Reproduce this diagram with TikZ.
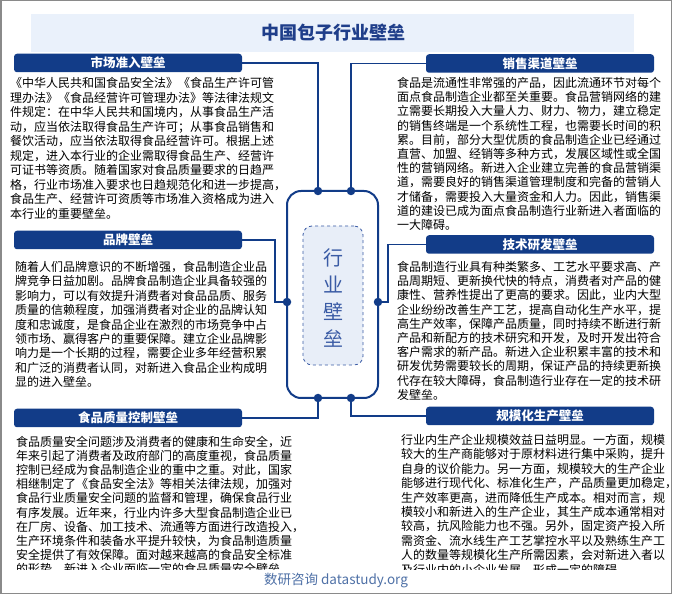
\documentclass[tikz,border=0pt]{standalone}
\usepackage{fontspec}
\setmainfont{Noto Sans CJK SC}
\definecolor{hdrblue}{HTML}{123C88}
\definecolor{bandblue}{HTML}{EAF1FB}
\definecolor{titleblue}{HTML}{1F3E8A}
\definecolor{coreblue}{HTML}{E8EEF8}
\definecolor{coretext}{HTML}{3A5BA5}
\definecolor{footblue}{HTML}{4E70A6}
\definecolor{framegray}{HTML}{8A8A8A}
\newcommand\bodylines[5]{%
  \foreach \lineText [count=\i] in {#5} {%
    \node[bodytext] (#1-\i) at (#2,{#3+(\i-1)*#4+4.5}) {\lineText};
  }%
}
\tikzset{
  bodytext/.style={anchor=base west, inner sep=0pt, font=\fontsize{12}{14}\selectfont},
  hdr/.style={fill=hdrblue, rounded corners=3pt, text=white, inner sep=0pt,
    minimum width=228pt, minimum height=18.5pt, font=\bfseries\fontsize{12.5}{14}\selectfont},
  dot/.style={circle, fill=hdrblue, inner sep=0pt, minimum size=8.5pt},
  link/.style={draw=hdrblue, line width=1.1pt},
}
\begin{document}
\begin{tikzpicture}[x=1pt,y=-1pt]
\useasboundingbox (0,0) rectangle (673,596);
\draw[framegray, line width=1.5pt] (0.75,0.75) rectangle (671.5,593.5);
% title
\fill[bandblue] (31,14) rectangle (634,52);
\node[text=titleblue, font=\bfseries\fontsize{18}{20}\selectfont] (title) at (333,33) {中国包子行业壁垒};
% headers
\node[hdr] (h1) at (128,63) {市场准入壁垒};
\node[hdr] (h2) at (128,240) {品牌壁垒};
\node[hdr] (h3) at (128,418) {食品质量控制壁垒};
\node[hdr] (h4) at (540,63.5) {销售渠道壁垒};
\node[hdr] (h5) at (540,244.5) {技术研发壁垒};
\node[hdr] (h6) at (540,416) {规模化生产壁垒};
% center
\node[draw=hdrblue, line width=2pt, rounded corners=14pt, minimum width=91pt, minimum height=207pt, inner sep=0pt] (frame) at (332.5,294.5) {};
\node[draw=coretext, dashed, line width=0.8pt, fill=coreblue, rounded corners=9pt, minimum width=60pt, minimum height=139pt, inner sep=0pt] (core) at (333,295.5) {};
\node[text=coretext, align=center, inner sep=0pt, font=\fontsize{20}{27}\selectfont] (coretext) at (333,298.5) {行\\业\\壁\\垒};
% dots
\node[dot] (dTL) at (318,191) {};
\node[dot] (dTR) at (351,191) {};
\node[dot] (dBL) at (318,398) {};
\node[dot] (dBR) at (351,398) {};
\node[dot] (dL) at (287,302) {};
\node[dot] (dR) at (378,302) {};
\coordinate (b2) at (275,240);
\coordinate (b5) at (388,244.5);
% connectors
\draw[link] (h1.east) -| (dTL);
\draw[link] (h4.west) -| (dTR);
\draw[link] (h2.east) -- (b2) |- (dL);
\draw[link] (h5.west) -- (b5) |- (dR);
\draw[link] (h3.east) -| (dBL);
\draw[link] (h6.west) -| (dBR);
% text blocks
\bodylines{ta}{10}{83}{14.55}{%
《中华人民共和国食品安全法》《食品生产许可管,
理办法》《食品经营许可管理办法》等法律法规文,
件规定：在中华人民共和国境内，从事食品生产活,
动，应当依法取得食品生产许可；从事食品销售和,
餐饮活动，应当依法取得食品经营许可。根据上述,
规定，进入本行业的企业需取得食品生产、经营许,
可证书等资质。随着国家对食品质量要求的日趋严,
格，行业市场准入要求也日趋规范化和进一步提高，,
食品生产、经营许可资质等市场准入资格成为进入,
本行业的重要壁垒。}
\bodylines{tb}{15}{267}{14.4}{%
随着人们品牌意识的不断增强，食品制造企业品,
牌竞争日益加剧。品牌食品制造企业具备较强的,
影响力，可以有效提升消费者对食品品质、服务,
质量的信赖程度，加强消费者对企业的品牌认知,
度和忠诚度，是食品企业在激烈的市场竞争中占,
领市场、赢得客户的重要保障。建立企业品牌影,
响力是一个长期的过程，需要企业多年经营积累,
和广泛的消费者认同，对新进入食品企业构成明,
显的进入壁垒。}
\bodylines{td}{397}{83}{14.2}{%
食品是流通性非常强的产品，因此流通环节对每个,
面点食品制造企业都至关重要。食品营销网络的建,
立需要长期投入大量人力、财力、物力，建立稳定,
的销售终端是一个系统性工程，也需要长时间的积,
累。目前，部分大型优质的食品制造企业已经通过,
直营、加盟、经销等多种方式，发展区域性或全国,
性的营销网络。新进入企业建立完善的食品营销渠,
道，需要良好的销售渠道管理制度和完备的营销人,
才储备，需要投入大量资金和人力。因此，销售渠,
道的建设已成为面点食品制造行业新进入者面临的,
一大障碍。}
\bodylines{te}{397}{267}{14.2}{%
食品制造行业具有种类繁多、工艺水平要求高、产,
品周期短、更新换代快的特点，消费者对产品的健,
康性、营养性提出了更高的要求。因此，业内大型,
企业纷纷改善生产工艺，提高自动化生产水平，提,
高生产效率，保障产品质量，同时持续不断进行新,
产品和新配方的技术研究和开发，及时开发出符合,
客户需求的新产品。新进入企业积累丰富的技术和,
研发优势需要较长的周期，保证产品的持续更新换,
代存在较大障碍，食品制造行业存在一定的技术研,
发壁垒。}
\begin{scope}
\clip (0,430) rectangle (673,569.5);
\bodylines{tc}{16}{442}{14.1}{%
食品质量安全问题涉及消费者的健康和生命安全，近,
年来引起了消费者及政府部门的高度重视，食品质量,
控制已经成为食品制造企业的重中之重。对此，国家,
相继制定了《食品安全法》等相关法律法规，加强对,
食品行业质量安全问题的监督和管理，确保食品行业,
有序发展。近年来，行业内许多大型食品制造企业已,
在厂房、设备、加工技术、流通等方面进行改造投入，,
生产环境条件和装备水平提升较快，为食品制造质量,
安全提供了有效保障。面对越来越高的食品安全标准,
的形势，新进入企业面临一定的食品质量安全壁垒。}
\bodylines{tf}{401}{440}{14.4}{%
行业内生产企业规模效益日益明显。一方面，规模,
较大的生产商能够对于原材料进行集中采购，提升,
自身的议价能力。另一方面，规模较大的生产企业,
能够进行现代化、标准化生产，产品质量更加稳定，,
生产效率更高，进而降低生产成本。相对而言，规,
模较小和新进入的生产企业，其生产成本通常相对,
较高，抗风险能力也不强。另外，固定资产投入所,
需资金、流水线生产工艺掌控水平以及熟练生产工,
人的数量等规模化生产所需因素，会对新进入者以,
及行业内的小企业发展，形成一定的障碍。}
\end{scope}
% footer
\node[text=footblue, font=\fontsize{13.5}{15}\selectfont] (foot) at (336,581) {数研咨询 datastudy.org};
\end{tikzpicture}
\end{document}
